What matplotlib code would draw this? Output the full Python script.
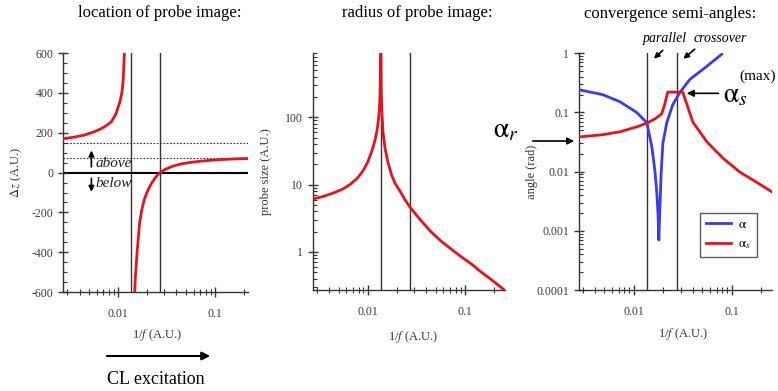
import matplotlib
matplotlib.use("Agg")
import matplotlib.pyplot as plt
from matplotlib.ticker import FuncFormatter, MultipleLocator, LogLocator, NullFormatter

plt.rcParams['font.family'] = 'serif'
plt.rcParams['font.serif'] = ['Liberation Serif', 'DejaVu Serif']
plt.rcParams['mathtext.fontset'] = 'stix'
plt.rcParams['axes.unicode_minus'] = False

# vertical guide lines: parallel illumination / crossover at the aperture
x_lines = [0.0136, 0.0273]

# location of probe image (two branches of the hyperbola)
x_up = [0.0027, 0.0035, 0.0045, 0.0055, 0.0065, 0.0075, 0.0085, 0.0095, 0.0105, 0.0110, 0.0113, 0.0116, 0.0118]
dz_up = [170, 178, 189, 203, 218, 235, 255, 295, 360, 410, 470, 600, 680]
x_dn = [0.0146, 0.0150, 0.0157, 0.0166, 0.0175, 0.0185, 0.020, 0.022, 0.0245, 0.0271,
        0.031, 0.037, 0.045, 0.055, 0.07, 0.09, 0.12, 0.16, 0.22]
dz_dn = [-680, -540, -400, -260, -190, -140, -95, -55, -22, 0,
         18, 33, 44, 51, 57, 62, 66, 69, 71]
dz_levels = [150, 75]

# radius of probe image
x_r = [0.0027, 0.0035, 0.0045, 0.0055, 0.0065, 0.0078, 0.0089, 0.0100, 0.0110, 0.0118, 0.0124,
       0.0128, 0.0131, 0.0133, 0.0134, 0.0135, 0.0136, 0.0137, 0.0139, 0.0143, 0.0150, 0.0160,
       0.0175, 0.0190, 0.0213, 0.0240, 0.0272, 0.0340, 0.0436, 0.0550, 0.0653, 0.0800, 0.0953,
       0.120, 0.142, 0.190, 0.255]
r = [6.1, 6.7, 7.6, 8.6, 10, 12.5, 16, 22, 32, 45, 64,
     90, 130, 200, 350, 900, 900, 250, 130, 60, 35, 22,
     14, 10.5, 8.1, 6.0, 4.6, 3.1, 2.06, 1.5, 1.23, 0.98, 0.81,
     0.64, 0.52, 0.38, 0.27]

# convergence semi-angles
x_a = [0.0028, 0.0048, 0.0072, 0.0107, 0.0136, 0.0153, 0.0164, 0.0172, 0.0177, 0.0180,
       0.0184, 0.0190, 0.0198, 0.0217, 0.0250, 0.0295, 0.0373, 0.0556, 0.079]
alpha = [0.24, 0.2, 0.152, 0.1, 0.067, 0.026, 0.0106, 0.0043, 0.0018, 0.0007,
         0.002, 0.009, 0.03, 0.067, 0.135, 0.217, 0.36, 0.6, 0.96]
x_s = [0.0028, 0.0048, 0.0072, 0.0107, 0.0139, 0.0165, 0.0193, 0.0205, 0.0222, 0.0316,
       0.0355, 0.040, 0.0556, 0.0809, 0.121, 0.18, 0.26]
alpha_s = [0.0386, 0.042, 0.047, 0.057, 0.067, 0.078, 0.095, 0.13, 0.22, 0.22,
           0.125, 0.069, 0.032, 0.017, 0.0098, 0.0066, 0.0045]

red = '#e8121c'
blue = '#3a3af0'
grey = '#333333'

fig = plt.figure(figsize=(7.78, 3.91), dpi=100)
ax1 = fig.add_axes([0.081, 0.253, 0.238, 0.611])
ax2 = fig.add_axes([0.402, 0.258, 0.247, 0.606])
ax3 = fig.add_axes([0.744, 0.258, 0.248, 0.606])


def style(ax):
    for s in ['top', 'right']:
        ax.spines[s].set_visible(False)
    for s in ['left', 'bottom']:
        ax.spines[s].set_color(grey)
        ax.spines[s].set_linewidth(1.0)
    ax.set_xscale('log')
    ax.tick_params(axis='x', which='major', direction='inout', length=7, width=1, colors=grey,
                   labelsize=8.5, labelcolor='#3a3a3a', pad=8)
    ax.tick_params(axis='x', which='minor', direction='inout', length=4, width=0.8, colors=grey)
    ax.tick_params(axis='y', which='major', direction='inout', length=7, width=1, colors=grey,
                   labelsize=8.5, labelcolor='#3a3a3a')
    ax.tick_params(axis='y', which='minor', direction='in', length=3, width=0.8, colors=grey)
    ax.xaxis.set_major_formatter(FuncFormatter(lambda v, _: f'{v:g}'))
    ax.xaxis.set_minor_formatter(NullFormatter())
    ax.set_xlabel(r'1/$f$ (A.U.)', fontsize=9, color='#333333')
    for xl in x_lines:
        ax.axvline(xl, color=grey, lw=1.0, zorder=1)


# ---- left panel ----
style(ax1)
ax1.set_xlim(0.0027, 0.22)
ax1.set_ylim(-600, 600)
ax1.yaxis.set_major_locator(MultipleLocator(200))
ax1.yaxis.set_minor_locator(MultipleLocator(50))
for lv in dz_levels:
    ax1.axhline(lv, color=grey, lw=0.8, ls=(0, (1.5, 1.5)), zorder=1)
ax1.axhline(0, color='black', lw=1.5, zorder=1)
ax1.plot(x_up, dz_up, color=red, lw=2, zorder=3)
ax1.plot(x_dn, dz_dn, color=red, lw=2, zorder=3)
ax1.set_ylabel(r'$\Delta z$ (A.U.)', fontsize=9, color='#333333')
ax1.yaxis.set_label_coords(-0.21, 0.5)
ax1.xaxis.set_label_coords(0.51, -0.145)
ax1.annotate('', xy=(0.0053, 125), xytext=(0.0053, 15),
             arrowprops=dict(arrowstyle='-|>', color='black', lw=1.2, mutation_scale=8))
ax1.annotate('', xy=(0.0053, -110), xytext=(0.0053, -15),
             arrowprops=dict(arrowstyle='-|>', color='black', lw=1.2, mutation_scale=8))
ax1.text(0.0059, 45, 'above', fontsize=11, style='italic', va='center', color='#222222')
ax1.text(0.0059, -55, 'below', fontsize=11, style='italic', va='center', color='#222222')

# ---- middle panel ----
style(ax2)
ax2.set_xlim(0.0027, 0.258)
ax2.set_yscale('log')
ax2.set_ylim(0.27, 900)
ax2.yaxis.set_major_locator(LogLocator(base=10, numticks=10))
ax2.yaxis.set_minor_locator(LogLocator(base=10, subs=range(2, 10), numticks=20))
ax2.yaxis.set_major_formatter(FuncFormatter(lambda v, _: f'{v:g}'))
ax2.yaxis.set_minor_formatter(NullFormatter())
ax2.plot(x_r, r, color=red, lw=2, zorder=3, clip_on=True)
ax2.set_ylabel('probe size (A.U.)', fontsize=9, color='#333333')
ax2.yaxis.set_label_coords(-0.213, 0.5)
ax2.xaxis.set_label_coords(0.52, -0.165)

# ---- right panel ----
style(ax3)
ax3.set_xlim(0.00275, 0.256)
ax3.set_yscale('log')
ax3.set_ylim(1e-4, 1)
ax3.yaxis.set_major_locator(LogLocator(base=10, numticks=10))
ax3.yaxis.set_minor_locator(LogLocator(base=10, subs=range(2, 10), numticks=20))
ax3.yaxis.set_major_formatter(FuncFormatter(lambda v, _: f'{v:g}'))
ax3.yaxis.set_minor_formatter(NullFormatter())
ax3.plot(x_a, alpha, color=blue, lw=2, label=r'$\mathrm{\alpha}$', zorder=3)
ax3.plot(x_s, alpha_s, color=red, lw=2, label=r'$\mathrm{\alpha}_{s}$', zorder=3)
ax3.set_ylabel('angle (rad)', fontsize=9, color='#333333')
ax3.yaxis.set_label_coords(-0.212, 0.5)
ax3.xaxis.set_label_coords(0.54, -0.15)
leg = ax3.legend(loc='lower right', bbox_to_anchor=(0.922, 0.14), fontsize=9.5, frameon=True,
                 fancybox=False, edgecolor='#333333', handlelength=1.9, borderpad=0.45,
                 labelspacing=0.55, handletextpad=0.5, borderaxespad=0)
leg.get_frame().set_linewidth(1.0)

ax3.text(0.0207, 1.75, 'parallel', fontsize=10, style='italic', ha='center', va='center')
ax3.annotate('', xy=(0.0153, 0.75), xytext=(0.0207, 1.2), annotation_clip=False,
             arrowprops=dict(arrowstyle='-|>', color='black', lw=1.2, mutation_scale=8))
ax3.text(0.077, 1.75, 'crossover', fontsize=10, style='italic', ha='center', va='center')
ax3.annotate('', xy=(0.0305, 0.75), xytext=(0.044, 1.25), annotation_clip=False,
             arrowprops=dict(arrowstyle='-|>', color='black', lw=1.2, mutation_scale=8))
ax3.annotate('', xy=(0.0325, 0.21), xytext=(0.078, 0.21), annotation_clip=False,
             arrowprops=dict(arrowstyle='-|>', color='black', lw=1.2, mutation_scale=10))
ax3.text(0.082, 0.19, r'$\mathrm{\alpha}_{s}$', fontsize=20, ha='left', va='center')
ax3.text(0.185, 0.40, '(max)', fontsize=11, ha='center', va='center')

# alpha_r arrow to the left axis of the right panel
fig.text(506 / 778, 1 - 131 / 391, r'$\mathrm{\alpha}_{r}$', fontsize=20, ha='center', va='center')
fig.add_artist(matplotlib.patches.FancyArrowPatch(
    (530 / 778, 1 - 141 / 391), (577 / 778, 1 - 141 / 391), transform=fig.transFigure,
    arrowstyle='-|>', color='black', lw=1.2, mutation_scale=10))

# titles
fig.text(160 / 778, 1 - 13 / 391, 'location of probe image:', fontsize=12, ha='center', va='center')
fig.text(417 / 778, 1 - 13 / 391, 'radius of probe image:', fontsize=12, ha='center', va='center')
fig.text(670 / 778, 1 - 14 / 391, 'convergence semi-angles:', fontsize=12, ha='center', va='center')

# CL excitation arrow
fig.add_artist(matplotlib.patches.FancyArrowPatch(
    (104 / 778, 1 - 356 / 391), (213 / 778, 1 - 356 / 391), transform=fig.transFigure,
    arrowstyle='-|>', color='black', lw=1.5, mutation_scale=12))
fig.text(156 / 778, 1 - 380 / 391, 'CL excitation', fontsize=13, ha='center', va='center')

fig.savefig('out.png', dpi=100)
